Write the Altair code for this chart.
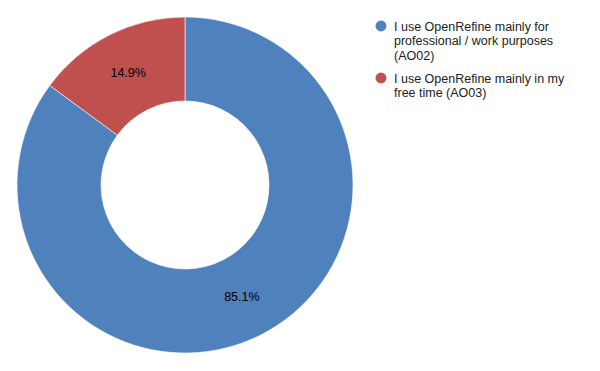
import altair as alt
import pandas as pd

categories = ["I use OpenRefine mainly for professional / work purposes (AO02)",
              "I use OpenRefine mainly in my free time (AO03)"]
legend_lines = [["I use OpenRefine mainly for", "professional / work purposes", "(AO02)"],
                ["I use OpenRefine mainly in my", "free time (AO03)"]]
shares = [85.1, 14.9]
labels = ["85.1%", "14.9%"]
colors = ["#4F81BD", "#C0504D"]

df = pd.DataFrame({"category": categories, "share": shares, "label": labels,
                   "order": [0, 1]})

color = alt.Color("category:N", scale=alt.Scale(domain=categories, range=colors), legend=None)
theta = alt.Theta("share:Q", stack=True)
order = alt.Order("order:Q")

cx, cy = 185, 185

arcs = alt.Chart(df).mark_arc(outerRadius=168, innerRadius=84, stroke="white",
                              strokeWidth=0.6).encode(
    theta=theta, color=color, order=order,
    x=alt.value(cx), y=alt.value(cy))

texts = alt.Chart(df).mark_text(radius=126, font="Liberation Sans", fontSize=12.5,
                                color="black").encode(
    theta=theta, text="label:N", order=order,
    x=alt.value(cx), y=alt.value(cy))

layers = [arcs, texts]
ys = [26, 78]
for i, cat in enumerate(categories):
    ldf = pd.DataFrame({"category": [cat], "lines": [legend_lines[i]]})
    layers.append(alt.Chart(ldf).mark_point(filled=True, shape="circle", size=120,
                                            opacity=1).encode(
        x=alt.value(381), y=alt.value(ys[i]), color=color))
    layers.append(alt.Chart(ldf).mark_text(align="left", baseline="middle",
                                           font="Liberation Sans", fontSize=12.5,
                                           lineHeight=14.5, color="#222222").encode(
        x=alt.value(394), y=alt.value(ys[i] + 0.5),
        text="lines"))

chart = alt.layer(*layers).properties(
    width=600, height=371, autosize=alt.AutoSizeParams(type="none"), padding=0
).configure_view(stroke=None)

chart.save("out.html", embed_options={"renderer": "svg", "actions": False})
